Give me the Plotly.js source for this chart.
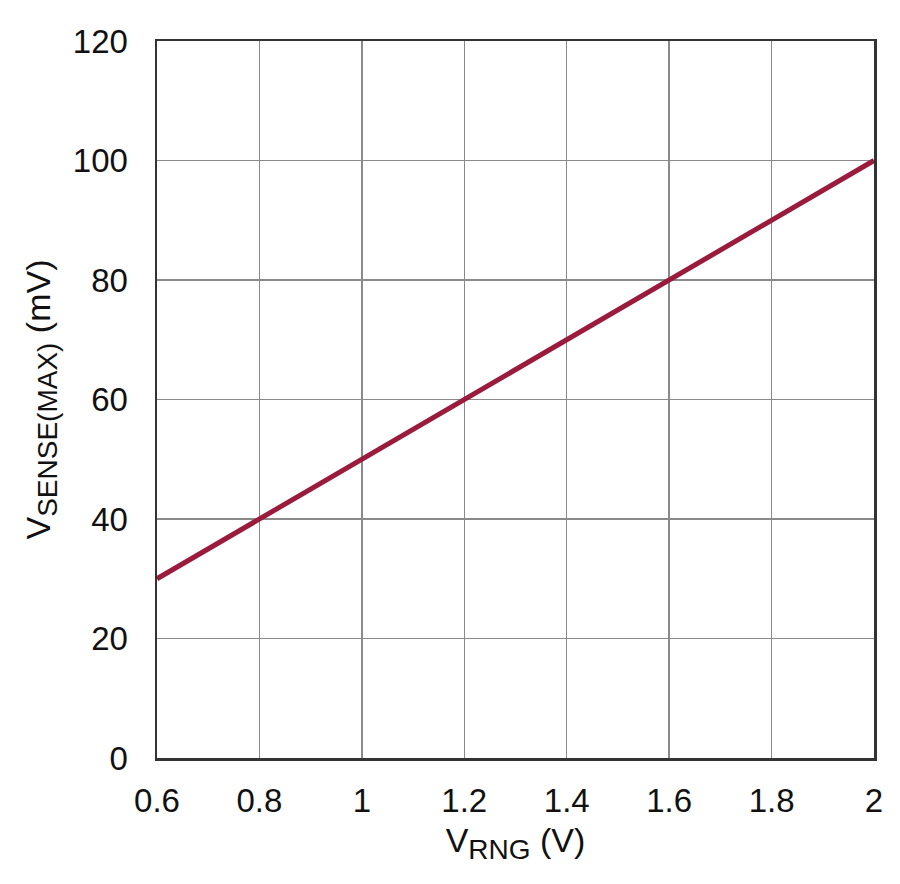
<!DOCTYPE html>
<html><head><meta charset="utf-8">
<script src="https://cdn.plot.ly/plotly-3.0.1.min.js"></script>
<style>html,body{margin:0;padding:0;background:#fff;}#chart{width:900px;height:884px;}</style>
</head><body><div id="chart"></div>
<script>
const vrng = [0.6, 0.8, 1.0, 1.2, 1.4, 1.6, 1.8, 2.0];
const vsenseMax = [30, 40, 50, 60, 70, 80, 90, 100];
const xTicks = [0.6, 0.8, 1, 1.2, 1.4, 1.6, 1.8, 2];
const yTicks = [0, 20, 40, 60, 80, 100, 120];

const font = 'Liberation Sans, Arial, sans-serif';
Plotly.newPlot('chart', [{
  x: vrng, y: vsenseMax, mode: 'lines', type: 'scatter',
  line: {color: '#9a1b3c', width: 5}, hoverinfo: 'skip'
}], {
  width: 900, height: 884,
  margin: {l: 157, r: 26, t: 41, b: 126},
  paper_bgcolor: '#fff', plot_bgcolor: '#fff',
  showlegend: false,
  font: {family: font, color: '#111', size: 33},
  xaxis: {
    range: [0.6, 2], tickvals: xTicks, ticktext: xTicks.map(String),
    showgrid: true, gridcolor: '#8a8a8a', gridwidth: 1.5,
    showline: true, linecolor: '#333', linewidth: 2.5, mirror: true,
    ticks: '', ticklabelstandoff: 12, zeroline: false,
    tickfont: {family: font, size: 33, color: '#111'},
    title: {text: 'V<sub><span style="font-size:28px">RNG</span></sub> (V)', font: {family: font, size: 34, color: '#111'}, standoff: 10}
  },
  yaxis: {
    range: [0, 120], tickvals: yTicks, ticktext: yTicks.map(String),
    showgrid: true, gridcolor: '#8a8a8a', gridwidth: 1.5,
    showline: true, linecolor: '#333', linewidth: 2.5, mirror: true,
    ticks: '', ticklabelstandoff: 20, zeroline: false,
    tickfont: {family: font, size: 33, color: '#111'},
    title: {text: 'V<sub><span style="font-size:28px">SENSE(MAX)</span></sub> (mV)', font: {family: font, size: 34, color: '#111'}, standoff: 12}
  }
}, {staticPlot: true});
</script></body></html>
